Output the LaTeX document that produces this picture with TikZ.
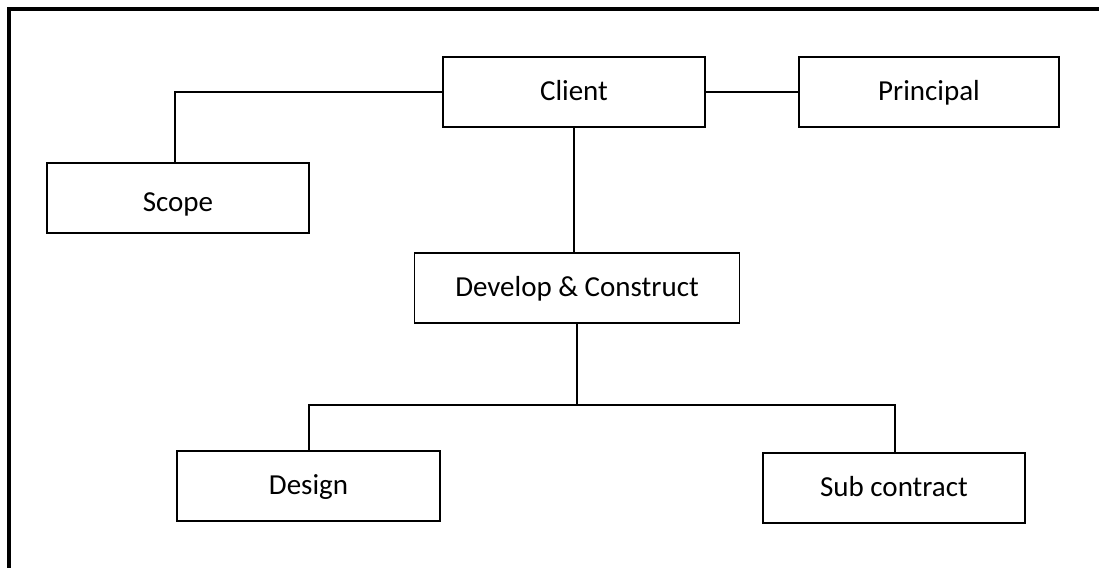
\documentclass[tikz,border=0pt]{standalone}
\usepackage{fontspec}
\setmainfont{Carlito}
\begin{document}
\begin{tikzpicture}[x=1pt,y=-1pt,
  box/.style={draw=black, line width=1.8pt, fill=white, rectangle, inner sep=0pt,
    minimum height=70pt, text height=21pt, text depth=4pt,
    font=\fontsize{29}{35}\selectfont},
  low/.style={text height=26pt, text depth=0pt},
  link/.style={draw=black, line width=1.8pt},
  frame/.style={draw=black, line width=4pt}]
\useasboundingbox (0,0) rectangle (1099,567);

% outer frame (left and top edges)
\draw[frame] (9,569) -- (9,9) -- (1101,9);

% boxes
\node[box, minimum width=262pt] (client) at (574,92) {Client};
\node[box, minimum width=260pt] (principal) at (929,92) {Principal};
\node[box, low, minimum width=262pt] (scope) at (178,198) {Scope};
\node[box, minimum width=325pt] (develop) at (577,288) {Develop \& Construct};
\node[box, minimum width=263pt] (design) at (308.5,486) {Design};
\node[box, minimum width=262pt] (sub) at (894,488) {Sub contract};

% junction points
\coordinate (sk) at (175,92);
\coordinate (bus) at (577,405);
\coordinate (busL) at (309,405);
\coordinate (busR) at (895,405);

% connectors
\draw[link] (client.west) -- (sk) -- (sk |- scope.north);
\draw[link] (client.east) -- (principal.west);
\draw[link] (client.south) -- (client.south |- develop.north);
\draw[link] (develop.south) -- (develop.south |- bus);
\draw[link] (busL |- design.north) -- (busL) -- (busR) -- (busR |- sub.north);
\end{tikzpicture}
\end{document}
